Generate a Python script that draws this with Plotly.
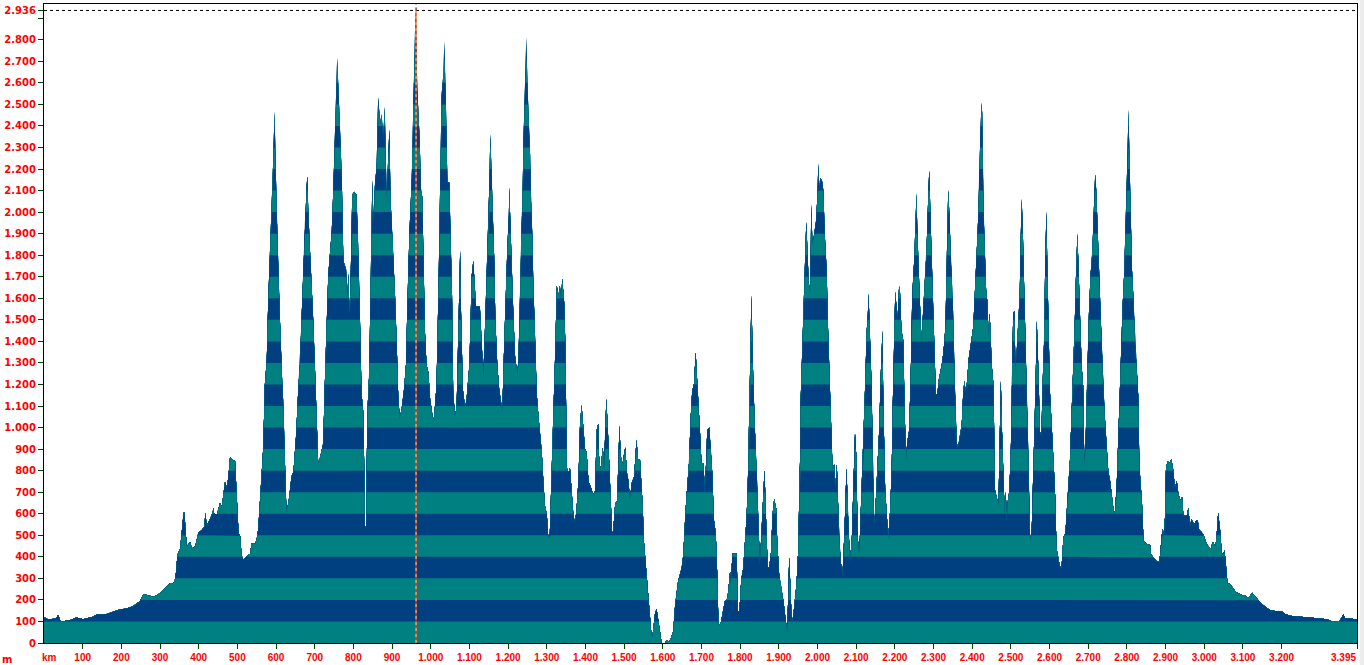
import plotly.graph_objects as go

KM = [0,10,30,37,43,67,84,101,127,136,162,179,196,214,231,248,257,261,283,300,313,326,335,339,342,345,352,356,361,363,366,369,378,382,391,399,408,415,417,419,421,429,436,438,440,447,455,460,464,468,473,477,481,488,494,498,503,507,511,516,524,533,537,546,550,554,
      558,563,567,571,576,580,584,589,593,596,598,602,606,610,615,619,623,627,634,640,645,652,658,662,666,671,675,679,681,683,688,692,696,701,705,709,715,722,727,731,735,740,744,748,752,757,758,761,765,770,774,781,784,787,790,793,797,802,808,813,817,821,826,830,833,836,841,847,849,852,856,860,863,864,867,871,873,877,881,884,886,890,893,896,902,905,908,912,916,920,925,931,936,940,945,951,955,958,960,962,965,971,975,978,981,985,989,994,998,1002,1007,1011,1015,1020,1024,1028,1033,1035,1039,1043,1048,1051,1055,1058,1063,1067,1071,1076,1078,1083,1089,1093,1100,1106,1110,1117,1127,
      1132,1136,1140,1145,1149,1152,1154,1157,1160,1164,1167,1172,1177,1182,1185,1190,1194,1198,1202,1203,1207,1210,1214,1218,1224,1227,1231,1234,1238,1240,1243,1246,1247,1250,1253,1257,1259,1263,1265,1270,1274,1278,1283,1287,1291,1295,1300,1304,1308,1313,1317,1321,1326,1330,1334,1337,1340,1345,1348,1352,1356,1360,1365,1369,1373,1377,1382,1386,1390,1393,1399,1403,1408,1412,1416,1420,1425,1429,1433,1435,1439,1445,1448,1451,1454,1458,1462,1465,1469,1472,1477,1482,1486,1488,1491,1496,1500,1503,1507,1511,1515,1520,1526,1529,1532,1536,1541,1545,1548,1551,1556,1558,1563,1567,1570,1573,1576,1580,1584,1589,1593,1597,1602,1606,1610,1614,1619,1623,1627,1632,1636,1640,1645,1649,1653,1656,1659,1664,1668,1672,1676,1681,1685,1689,1692,1696,
      1700,1705,1709,1715,1720,1724,1728,1732,1737,1741,1744,1750,1755,1761,1765,1769,1774,1776,1780,1787,1791,1794,1798,1803,1808,1813,1817,1820,1823,1825,1827,1829,1831,1834,1838,1843,1847,1851,1856,1860,1863,1867,1871,1875,1880,1884,1888,1893,1896,1901,1907,1912,1917,1922,1925,1927,1931,1934,1938,1942,1946,1950,1953,1955,1956,1959,1963,1966,1969,1971,1974,1977,1981,1984,1987,1991,1996,2000,2002,2005,2008,2012,2015,2019,2024,2026,2029,2032,2036,2039,2043,2046,2050,2053,2056,2060,2065,2070,2075,2079,2084,2089,2094,2097,2100,2104,2108,2113,2117,2120,2124,2127,2130,2132,2136,2140,2144,2147,2151,2156,2160,2163,2166,2168,2170,2175,2179,2183,2188,2192,2194,2198,2201,2205,2207,2211,2213,2217,2222,2225,2229,2232,2237,2241,2245,2250,2253,2256,2258,2261,2265,
      2269,2274,2278,2282,2287,2289,2293,2296,2300,2303,2306,2310,2314,2319,2323,2327,2331,2333,2336,2338,2341,2344,2348,2351,2354,2357,2360,2363,2369,2373,2377,2380,2383,2387,2391,2394,2399,2403,2406,2410,2413,2416,2418,2421,2424,2426,2429,2432,2436,2439,2442,2444,2447,2450,2455,2459,2463,2468,2470,2474,2477,2481,2484,2487,2489,2493,2496,2500,2503,2506,2509,2512,2516,2519,2523,2525,2528,2531,2534,2537,2541,2544,2548,2550,2554,2558,2562,2564,2567,2569,2572,2575,2579,2582,2586,2589,2592,2594,2598,2601,2605,2610,2614,2618,2623,2627,2631,2636,2641,2644,2649,2653,2657,2662,2665,2668,2672,2675,2679,2683,2687,2690,2693,2698,2702,2706,2711,2713,2717,2718,2721,2724,2727,2731,2735,2739,2743,2748,2752,2756,2761,2765,2769,2774,2778,2782,2786,2789,2793,2796,2800,2802,2804,2807,2810,2813,2817,2821,2825,2830,2832,2836,2839,2843,
      2851,2860,2862,2868,2877,2884,2887,2892,2894,2899,2901,2905,2910,2915,2920,2924,2929,2933,2939,2943,2946,2955,2959,2963,2967,2974,2979,2983,2987,2993,2999,3005,3011,3017,3022,3029,3032,3036,3041,3045,3049,3052,3055,3060,3067,3074,3080,3088,3097,3105,3114,3124,3131,3140,3149,3157,3170,3183,3200,3209,3222,3239,3256,3273,3291,3304,3317,3330,3343,3349,3355,3360,3364,3373,3386,3395]

ELEV = [120,110,112,130,100,106,118,110,122,132,135,144,155,160,172,194,228,225,215,231,253,279,279,296,338,410,436,498,605,605,498,448,470,439,448,510,524,540,603,550,544,574,605,628,600,595,650,633,701,747,718,774,861,848,845,676,510,498,405,385,402,414,464,460,481,529,
        635,754,908,1196,1312,1600,1792,1985,2254,2465,2254,1985,1715,1504,1254,1100,840,600,677,773,792,965,1196,1292,1504,1754,1985,2119,2167,2023,1812,1677,1504,1254,1023,831,869,927,1254,1504,1706,1821,1908,2100,2369,2600,2715,2590,2408,2158,1773,1735,1581,1715,1523,1696,2081,2094,2081,1812,1504,1158,1062,542,533,1062,1254,1946,2148,1956,2138,2206,2408,2533,2465,2408,2456,2340,2488,2158,2062,2254,2385,2062,1850,1725,1600,1388,1138,1042,1090,1177,1292,1600,1908,2158,2542,2715,2908,2936,2581,2350,2100,2071,1812,1446,1292,1254,1138,1081,1023,1100,1196,1638,2100,2542,2648,2792,2523,2138,2138,1888,1619,1158,1052,1100,1388,1821,1562,1177,1090,1138,1292,1706,1773,1562,1562,
        1388,1235,1446,1715,1908,2158,2360,2215,2004,1792,1504,1292,1177,1119,1071,1388,1638,1831,1985,2115,1888,1677,1504,1331,1244,1331,1600,1908,2138,2350,2542,2696,2812,2600,2446,2263,2062,1869,1677,1408,1158,1062,965,888,754,638,600,485,513,773,1062,1292,1658,1610,1658,1581,1692,1581,1388,812,792,812,677,590,558,619,754,1013,1104,1023,898,888,744,735,715,687,706,985,1019,869,802,908,802,1004,1133,985,812,677,504,523,648,658,869,1008,869,831,879,908,792,754,667,744,773,850,942,850,854,725,638,475,369,292,196,100,52,23,81,138,158,100,42,0,0,0,13,8,13,33,52,177,235,292,321,350,408,542,619,744,840,1042,1167,1206,1350,1215,1081,985,
        836,836,693,988,1000,912,785,574,507,304,76,93,135,199,194,236,329,262,414,414,414,149,144,296,346,481,591,752,971,1182,1385,1613,1419,1216,997,794,566,363,532,693,802,574,355,346,422,600,667,625,465,313,253,194,118,47,270,397,203,88,135,194,279,422,650,861,1098,1284,1444,1639,1824,1954,1824,1681,1622,2035,1845,1892,1954,2078,2225,2111,2159,2142,2103,1892,1715,1529,1334,1182,1005,802,828,718,828,642,490,375,321,524,811,591,372,490,794,971,878,490,405,650,828,1030,1233,1444,1512,1622,1419,1182,718,549,667,836,1005,1216,1377,1449,1132,709,600,486,617,811,1047,1410,1630,1546,1503,1655,1647,1453,1402,1098,853,929,988,1233,1613,1774,1926,2086,1922,1740,1571,
        1402,1571,1706,1824,2111,2193,1926,1706,1503,1334,1152,1157,1225,1267,1309,1377,1470,1664,1858,2103,1993,1824,1664,1520,1267,1064,929,904,963,1014,1166,1216,1166,1216,1318,1368,1419,1470,1613,1748,1867,1993,2204,2348,2508,2458,2027,1841,1639,1588,1419,1529,1473,1301,1199,709,676,642,828,1216,988,777,591,701,561,676,701,895,1318,1529,1541,1267,1377,1503,1622,1841,2061,1909,1672,1478,1115,971,566,476,524,802,980,1199,1495,1402,1216,980,963,1199,1402,1791,2002,1774,1402,1166,1030,861,709,439,380,355,346,493,507,600,743,853,1064,1275,1470,1681,1900,1740,1495,1284,1191,819,912,1301,1537,1706,1824,1934,2098,2176,2095,1943,1740,1563,1360,1174,1047,895,794,760,684,625,600,743,963,1199,1377,1563,1715,1892,2095,2289,2475,2213,1993,1740,1596,1385,1284,1123,828,709,650,473,
        459,456,414,397,380,375,431,532,481,591,802,845,836,853,802,718,752,693,659,679,591,591,628,541,574,549,566,571,524,515,498,465,448,439,470,448,498,605,524,422,405,431,385,279,274,257,240,231,223,220,206,233,220,199,181,169,152,149,147,135,127,123,122,118,115,113,110,101,98,98,118,132,115,113,110,110]

X_TICKS = list(range(100, 3300, 100))
X_END = 3395
Y_TICKS = list(range(0, 3000, 100))
MAX_ELEV = 2936
MAX_KM = 962
BAND = 100
COLOR_EVEN = "#008080"
COLOR_ODD = "#004080"


def fmt(v):
    return f"{v:,}".replace(",", ".")


def clip(xs, ys, cap):
    ox, oy = [], []
    for i in range(len(xs)):
        if i > 0:
            y0, y1 = ys[i - 1], ys[i]
            if (y0 - cap) * (y1 - cap) < 0:
                t = (cap - y0) / (y1 - y0)
                ox.append(xs[i - 1] + t * (xs[i] - xs[i - 1]))
                oy.append(cap)
        ox.append(xs[i])
        oy.append(min(ys[i], cap))
    return ox, oy


fig = go.Figure()
n_bands = MAX_ELEV // BAND + 1
for k in range(n_bands - 1, -1, -1):
    cx, cy = clip(KM, ELEV, (k + 1) * BAND)
    fig.add_trace(go.Scatter(
        x=cx, y=cy, mode="lines", fill="tozeroy",
        line=dict(width=0), fillcolor=COLOR_EVEN if k % 2 == 0 else COLOR_ODD,
        hoverinfo="skip", showlegend=False))

YMAX = 2966
# max-elevation dotted line
fig.add_trace(go.Scatter(x=[0, X_END], y=[MAX_ELEV, MAX_ELEV], mode="lines",
                         line=dict(color="black", width=1, dash="dot"),
                         showlegend=False, hoverinfo="skip"))
# cursor line at the summit
fig.add_trace(go.Scatter(x=[MAX_KM, MAX_KM], y=[0, MAX_ELEV], mode="lines",
                         line=dict(color="#ff3030", width=1.2),
                         showlegend=False, hoverinfo="skip"))
fig.add_trace(go.Scatter(x=[MAX_KM, MAX_KM], y=[0, MAX_ELEV], mode="lines",
                         line=dict(color="#ffd060", width=1, dash="dot"),
                         showlegend=False, hoverinfo="skip"))
fig.add_trace(go.Scatter(x=[MAX_KM, MAX_KM], y=[MAX_ELEV, YMAX], mode="lines",
                         line=dict(color="black", width=1, dash="dot"),
                         showlegend=False, hoverinfo="skip"))

y_vals = Y_TICKS + [MAX_ELEV]
y_text = [("" if v == 2900 else fmt(v)) for v in Y_TICKS] + [fmt(MAX_ELEV)]

fig.update_layout(
    width=1364, height=665,
    margin=dict(l=44, r=7, t=4, b=22, autoexpand=False),
    paper_bgcolor="white", plot_bgcolor="white",
    xaxis=dict(range=[0, X_END], showgrid=False, zeroline=False, automargin=False,
               showline=True, linecolor="black", linewidth=1, mirror=True,
               ticks="outside", ticklen=5, tickcolor="#004000", tickwidth=1,
               tickvals=X_TICKS + [X_END], ticktext=[fmt(v) for v in X_TICKS] + [""],
               tickfont=dict(family="Liberation Sans", size=10, color="red", weight="bold"),
               fixedrange=True),
    yaxis=dict(range=[0, YMAX], showgrid=False, zeroline=False, automargin=False,
               showline=True, linecolor="black", linewidth=1, mirror=True,
               ticks="outside", ticklen=5, tickcolor="#004000", tickwidth=1,
               tickvals=y_vals, ticktext=y_text,
               tickfont=dict(family="DejaVu Sans", size=10, color="red", weight="bold"),
               fixedrange=True),
    annotations=[
        dict(x=0, y=0, xref="x", yref="paper", text="km", showarrow=False,
             xanchor="left", yanchor="top", xshift=-4, yshift=-7,
             font=dict(family="Liberation Sans", size=10, color="red", weight="bold")),
        dict(x=X_END, y=0, xref="x", yref="paper", text=fmt(X_END), showarrow=False,
             xanchor="right", yanchor="top", xshift=1, yshift=-7,
             font=dict(family="Liberation Sans", size=10, color="red", weight="bold")),
        dict(x=0, y=0, xref="paper", yref="paper", text="m", showarrow=False,
             xanchor="left", yanchor="top", xshift=-44, yshift=-9,
             font=dict(family="DejaVu Sans", size=10, color="red", weight="bold")),
    ],
    shapes=[dict(type="rect", xref="paper", yref="paper", x0=1.0024, x1=1.01,
                 y0=-0.05, y1=1.01, fillcolor="#ececec", line=dict(width=0))],
)

fig.write_html("out.html", config={"displayModeBar": False},
               post_script="document.body.style.margin='0';document.body.style.padding='0';")
